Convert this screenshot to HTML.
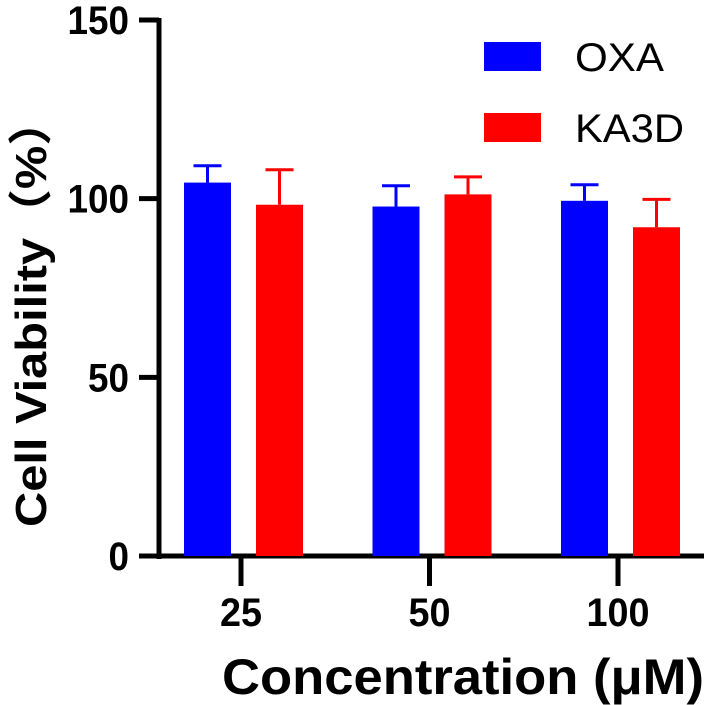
<!DOCTYPE html>
<html><head><meta charset="utf-8"><style>
html,body{margin:0;padding:0;background:#fff;}
svg{display:block;font-family:"Liberation Sans","Noto Sans CJK SC",sans-serif;}
</style></head><body>
<svg id="chart" width="709" height="705"></svg>
<script>
const categories = ["25","50","100"];
const oxaValues = [104.5, 97.8, 99.4];
const oxaErrors = [4.7, 5.8, 4.5];
const ka3dValues = [98.3, 101.2, 92.0];
const ka3dErrors = [9.8, 4.9, 7.8];
const yTicks = [0, 50, 100, 150];
const seriesNames = ["OXA","KA3D"];

const NS="http://www.w3.org/2000/svg";
const svg=document.getElementById('chart');
const axX=159, y0=556, y150=20;
function yScale(v){return y0-(v/150)*(y0-y150);}
function xCenter(i){return 241+i*188.5;}
function mk(t,a,p){const e=document.createElementNS(NS,t);for(const k in a)e.setAttribute(k,a[k]);(p||svg).appendChild(e);return e;}

const ya=mk('line',{x1:axX,y1:y150-2,x2:axX,y2:y0+3,stroke:'#000','stroke-width':5});


const xa=mk('line',{x1:139,y1:y0,x2:704,y2:y0,stroke:'#000','stroke-width':5});



yTicks.forEach(v=>{
  const y=yScale(v);
  const t=mk('line',{x1:139,y1:y,x2:axX,y2:y,stroke:'#000','stroke-width':5});
  
  
  const s=String(v);
  const l=mk('text',{x:129,y:y+14,'text-anchor':'end','font-size':40,'font-weight':'bold',textLength:s.length*20.5,lengthAdjust:'spacingAndGlyphs'});
  l.textContent=s;
  
  
});

const colors=['#0000ff','#ff0000'];
const vals=[oxaValues,ka3dValues], errs=[oxaErrors,ka3dErrors];
const offs=[-57,15], bw=47;
categories.forEach((c,i)=>{
  const cx=xCenter(i);
  const t=mk('line',{x1:cx,y1:y0,x2:cx,y2:y0+30,stroke:'#000','stroke-width':5});
  
  
  const l=mk('text',{x:cx,y:626,'text-anchor':'middle','font-size':40,'font-weight':'bold',textLength:c.length*21,lengthAdjust:'spacingAndGlyphs'});
  l.textContent=c;
  
  
  for(let s=0;s<2;s++){
    const v=vals[s][i], e=errs[s][i];
    const x=cx+offs[s], top=yScale(v);
    const m=x+bw/2, et=yScale(v+e);
    const el=mk('line',{x1:m,y1:top,x2:m,y2:et,stroke:colors[s],'stroke-width':3});
    
    
    const cap=mk('line',{x1:m-14,y1:et,x2:m+14,y2:et,stroke:colors[s],'stroke-width':3});
    
    
    const r=mk('rect',{x:x,y:top,width:bw,height:y0-top,fill:colors[s]});
    
    
  }
});

seriesNames.forEach((n,s)=>{
  const y=42+s*71;
  const r=mk('rect',{x:484,y:y,width:57,height:29,fill:colors[s]});
  
  
  const t=mk('text',{x:575,y:y+29,'font-size':40,textLength:s?109:89,lengthAdjust:'spacingAndGlyphs'});
  t.textContent=n;
  
  
});

const xt=mk('text',{x:222,y:694,'font-size':50,'font-weight':'bold',textLength:482,lengthAdjust:'spacingAndGlyphs'});
xt.textContent='Concentration (μM)';


const yt=mk('text',{x:0,y:0,'font-size':44,'font-weight':'bold','text-anchor':'middle',transform:'translate(46,312) rotate(-90)',textLength:430,lengthAdjust:'spacingAndGlyphs'});
yt.textContent='Cell Viability（%）';


</script>
</body></html>
